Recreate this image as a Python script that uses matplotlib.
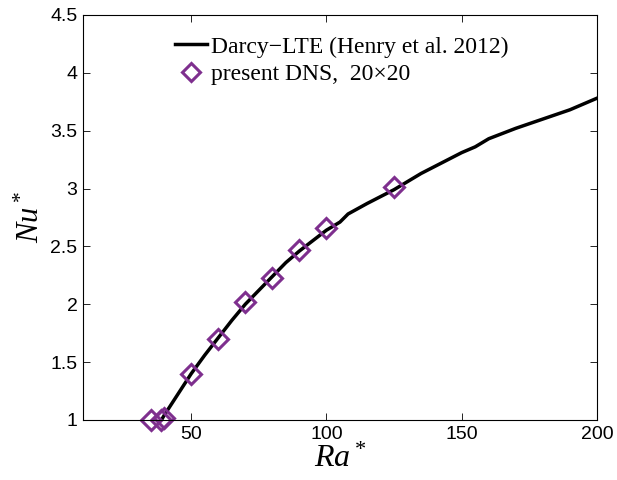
import matplotlib
matplotlib.use('Agg')
import matplotlib.pyplot as plt
import numpy as np

# Darcy-LTE curve (Henry et al. 2012)
ra_curve = [39, 40, 45, 50, 55, 60, 65, 70, 75, 80, 85, 90, 95, 100, 105, 108,
            115, 125, 135, 150, 155, 160, 170, 180, 190, 200]
nu_curve = [1.0, 1.04, 1.22, 1.40, 1.56, 1.71, 1.86, 2.00, 2.12, 2.24, 2.36, 2.46,
            2.55, 2.64, 2.71, 2.78, 2.87, 2.99, 3.13, 3.31, 3.36, 3.43, 3.52, 3.60,
            3.68, 3.78]

# present DNS, 20x20
ra_dns = [35, 39, 40, 50, 60, 70, 80, 90, 100, 125]
nu_dns = [1.0, 1.0, 1.02, 1.40, 1.70, 2.02, 2.23, 2.47, 2.66, 3.01]

xticks = [50, 100, 150, 200]
yticks = [1, 1.5, 2, 2.5, 3, 3.5, 4, 4.5]

plt.rcParams['mathtext.fontset'] = 'custom'
plt.rcParams['mathtext.rm'] = 'Liberation Serif'
plt.rcParams['mathtext.it'] = 'Liberation Serif:italic'

fig = plt.figure(figsize=(6.17, 4.8), dpi=100)
ax = fig.add_axes([0.1345, 0.125, 0.833, 0.844])

purple = '#7E2F8E'
ax.plot(ra_curve, nu_curve, color='black', lw=2.5,
        label='Darcy\u2212LTE (Henry et al. 2012)')
ax.plot(ra_dns, nu_dns, ls='none', marker='D', ms=10, mfc='none', mec=purple,
        mew=2.2, clip_on=False, label='present DNS,  20\u00d720')

ax.set_xlim(10, 200)
ax.set_ylim(1, 4.5)
ax.set_xticks(xticks)
ax.set_yticks(yticks)
ax.set_yticklabels(['1', '1.5', '2', '2.5', '3', '3.5', '4', '4.5'])
ax.tick_params(direction='in', top=True, right=True, length=5, width=0.6,
               labelsize=14, pad=4)
for lab in ax.get_xticklabels() + ax.get_yticklabels():
    lab.set_family('Liberation Sans')
for s in ax.spines.values():
    s.set_linewidth(0.8)

ax.set_xlabel(r'$Ra^*$', fontsize=23, labelpad=0)
ax.set_ylabel(r'$Nu^*$', fontsize=22, labelpad=4)

ax.legend(loc='upper left', bbox_to_anchor=(0.137, 1.0), frameon=False,
          prop={'family': 'Liberation Serif', 'size': 17}, handlelength=1.35,
          handletextpad=0.2, labelspacing=0.25, markerscale=0.9)

fig.savefig('out.png', dpi=100)
